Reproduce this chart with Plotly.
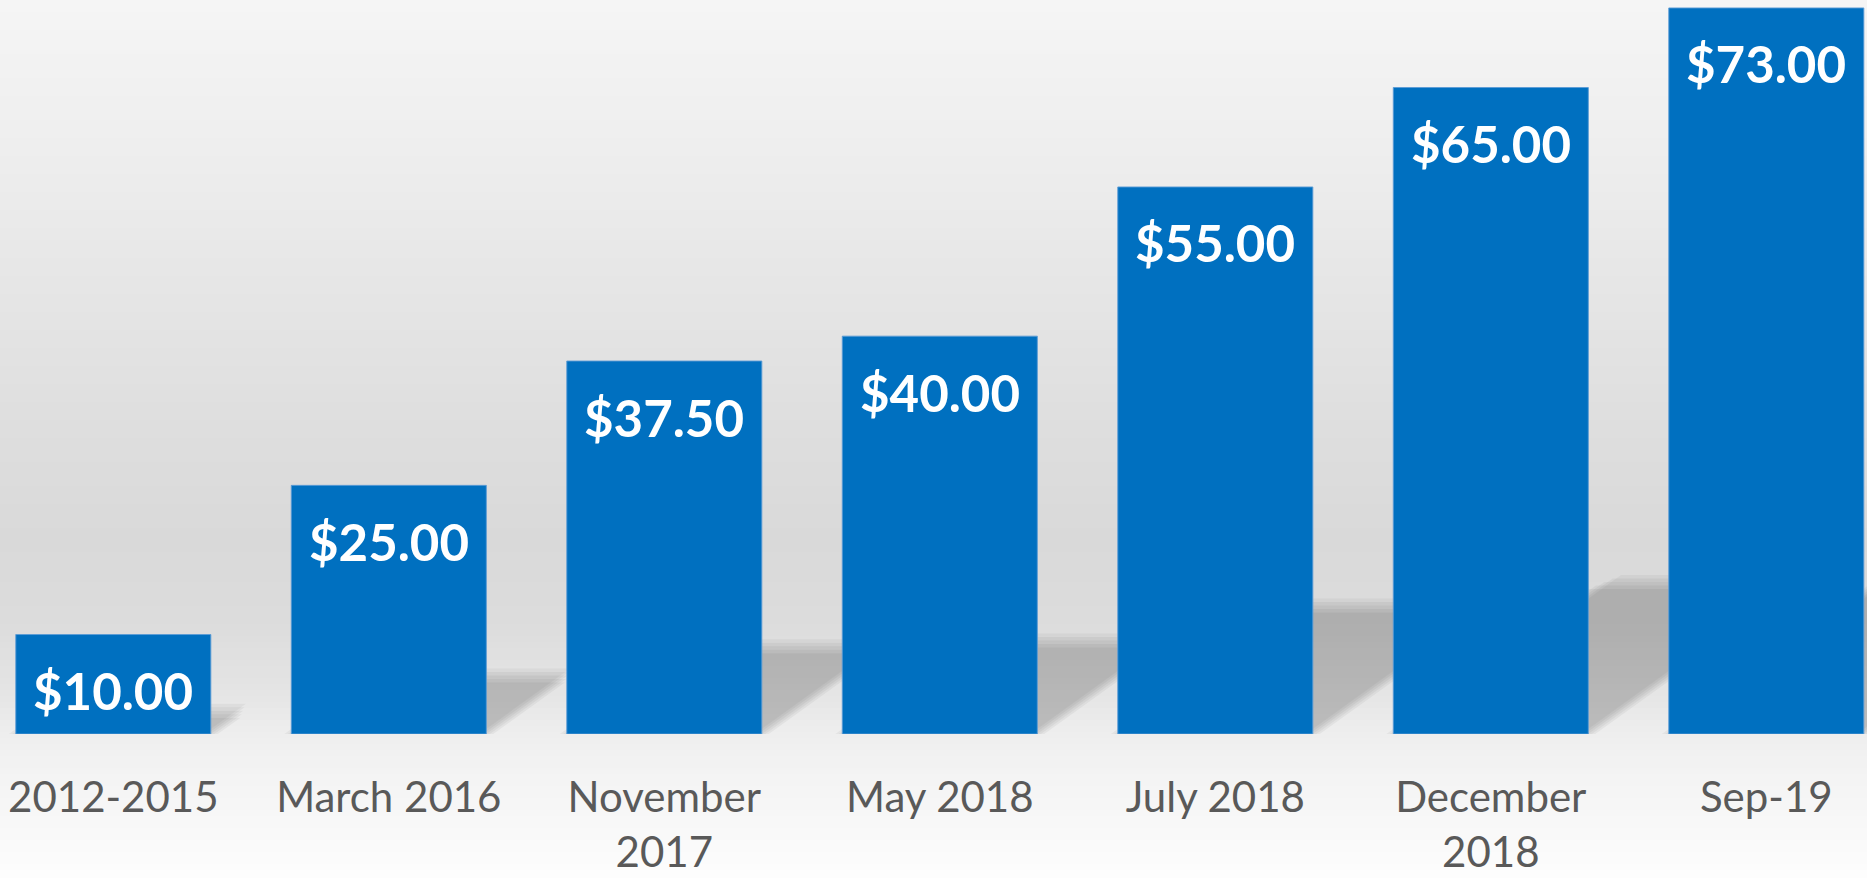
import plotly.graph_objects as go

# ---- data ----
categories = ["2012-2015", "March 2016", "November<br>2017", "May 2018",
              "July 2018", "December<br>2018", "Sep-19"]
prices = [10.00, 25.00, 37.50, 40.00, 55.00, 65.00, 73.00]
price_labels = ["$10.00", "$25.00", "$37.50", "$40.00", "$55.00", "$65.00", "$73.00"]

# ---- geometry / style ----
W, H = 1867, 878
BASE_PX = 734              # baseline pixel row
PX_PER_CAT = 275.5
FIRST_CENTER_PX = 113.3
BARGAP = 0.292
Y_TOP = 73.8
PX_PER_Y = BASE_PX / Y_TOP
BAR_COLOR = "#0070C0"

x_idx = list(range(len(categories)))
x_range = [(0 - FIRST_CENTER_PX) / PX_PER_CAT, (W - FIRST_CENTER_PX) / PX_PER_CAT]

fig = go.Figure()
fig.add_trace(go.Bar(
    x=x_idx, y=prices,
    marker=dict(color=BAR_COLOR, line=dict(color="rgba(91,155,213,0.9)", width=1)),
    hoverinfo="skip",
))

shapes = []
# background gradient (paper-referenced strips)
stops = [(0, 245), (150, 238), (300, 229), (450, 221), (540, 217), (620, 220),
         (690, 228), (734, 238), (760, 242), (878, 253)]
def gray_at(py):
    for (y0, g0), (y1, g1) in zip(stops[:-1], stops[1:]):
        if y0 <= py <= y1:
            t = (py - y0) / (y1 - y0)
            return g0 + (g1 - g0) * t
    return stops[-1][1]
step = 6
paper_per_px = 1.0 / BASE_PX
for py in range(0, H, step):
    g = round(gray_at(py + step / 2))
    y_top_paper = 1 - py * paper_per_px
    y_bot_paper = 1 - (py + step + 1) * paper_per_px
    shapes.append(dict(type="rect", xref="paper", yref="paper", x0=-0.01, x1=1.01,
                       y0=y_bot_paper, y1=y_top_paper, fillcolor=f"rgb({g},{g},{g})",
                       line=dict(width=0), layer="below"))

# perspective shadows behind bars (derived from bar values)
half_w = (1 - BARGAP) / 2
SLOPE = 0.72
for i, v in zip(x_idx, prices):
    hs_px = 0.235 * v * PX_PER_Y
    for k, op in [(-7, 0.045), (-3.5, 0.045), (0, 0.045), (3.5, 0.045), (7, 0.04)]:
        h = max(hs_px + k, 2)
        s_px = h / SLOPE
        xl = i - half_w + k / PX_PER_CAT
        xr = i + half_w - k / PX_PER_CAT
        xs = s_px / PX_PER_CAT
        yt = h / PX_PER_Y
        path = f"M {xl},0 L {xr},0 L {xr + xs},{yt} L {xl + xs},{yt} Z"
        shapes.append(dict(type="path", xref="x", yref="y", path=path,
                           fillcolor=f"rgba(0,0,0,{op})", line=dict(width=0), layer="below"))

annotations = []
for i, v, t in zip(x_idx, prices, price_labels):
    annotations.append(dict(x=i, y=v, xref="x", yref="y", text=f"<b>{t}</b>",
                            showarrow=False, yanchor="middle", yshift=-56,
                            font=dict(family="Lato, 'Open Sans', sans-serif", size=51, color="white")))

fig.update_layout(
    width=W, height=H,
    margin=dict(l=0, r=0, t=0, b=H - BASE_PX, pad=0),
    paper_bgcolor="rgba(0,0,0,0)",
    plot_bgcolor="rgba(0,0,0,0)",
    bargap=BARGAP,
    showlegend=False,
    hovermode=False,
    shapes=shapes,
    annotations=annotations,
    xaxis=dict(range=x_range, tickmode="array", tickvals=x_idx, ticktext=categories,
               showgrid=False, zeroline=False, showline=False, ticks="",
               ticklabelstandoff=35, fixedrange=True,
               tickfont=dict(family="Lato, 'Open Sans', sans-serif", size=42, color="#595959")),
    yaxis=dict(range=[0, Y_TOP], visible=False, showgrid=False, zeroline=False, fixedrange=True),
)

fig.write_html("out.html", config={"displayModeBar": False},
               post_script="document.body.style.margin='0';document.body.style.overflow='hidden';")
